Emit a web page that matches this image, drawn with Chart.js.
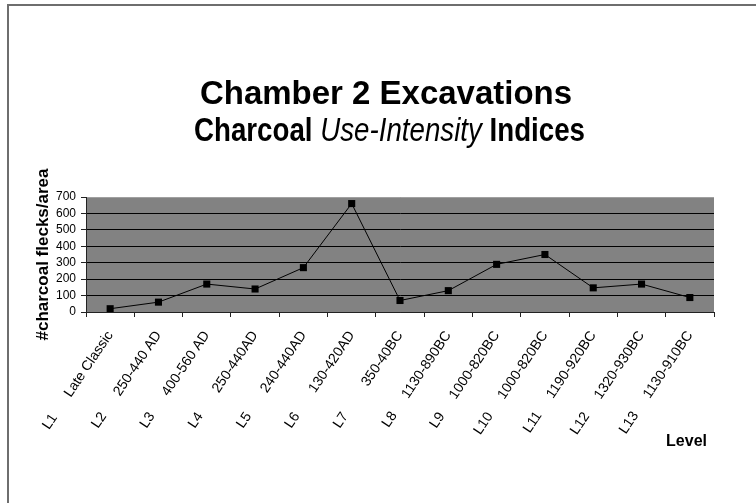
<!DOCTYPE html>
<html>
<head>
<meta charset="utf-8">
<script src="https://cdn.jsdelivr.net/npm/chart.js@4.4.1/dist/chart.umd.min.js"></script>
<style>
html,body{margin:0;padding:0;background:#fff;}
#wrap{width:756px;height:503px;position:relative;}
</style>
</head>
<body>
<div id="wrap"><canvas id="c" width="756" height="503"></canvas></div>
<script>
// ---- data ----
const levels = ['L1','L2','L3','L4','L5','L6','L7','L8','L9','L10','L11','L12','L13'];
const periods = ['Late Classic','250-440 AD','400-560 AD','250-440AD','240-440AD','130-420AD','350-40BC','1130-890BC','1000-820BC','1000-820BC','1190-920BC','1320-930BC','1130-910BC'];
const flecks = [20, 60, 170, 140, 270, 660, 70, 130, 290, 350, 147, 170, 88];
const yTickValues = [0, 100, 200, 300, 400, 500, 600, 700];
const titleLine1 = 'Chamber 2 Excavations';
const titleLine2 = [['Charcoal ', 'bold'], ['Use-Intensity', 'italic'], [' Indices', 'bold']];
const yTitle = '#charcoal flecks/area';
const xTitle = 'Level';

// ---- label building (pad between level and period) ----
const FAM = '"Liberation Sans", Arial, Helvetica, sans-serif';
const TICK_FONT_SIZE = 14;
const mctx = document.createElement('canvas').getContext('2d');
mctx.font = TICK_FONT_SIZE + 'px ' + FAM;
const GAP_TARGET = 97;
const xLabels = levels.map((l, i) => {
  const p = periods[i];
  let s = ' ';
  while (mctx.measureText(s + p).width < GAP_TARGET) s += ' ';
  return l + s + p;
});

function drawFitted(ctx, parts, left, width, y, size) {
  const fonts = {bold: 'bold ' + size + 'px ' + FAM, italic: 'italic ' + size + 'px ' + FAM};
  let total = 0;
  parts.forEach(([t, f]) => { ctx.font = fonts[f]; total += ctx.measureText(t).width; });
  const sx = width / total;
  ctx.save();
  ctx.translate(left, y);
  ctx.scale(sx, 1);
  let x = 0;
  ctx.textAlign = 'left';
  ctx.textBaseline = 'middle';
  parts.forEach(([t, f]) => { ctx.font = fonts[f]; ctx.fillText(t, x, 0); x += ctx.measureText(t).width; });
  ctx.restore();
}

const bgPlugin = {
  id: 'bg',
  beforeDraw(chart) {
    const {ctx, chartArea: a} = chart;
    ctx.save();
    ctx.fillStyle = '#fff';
    ctx.fillRect(0, 0, chart.width, chart.height);
    ctx.fillStyle = '#828282';
    ctx.fillRect(a.left, a.top, a.right - a.left, a.bottom - a.top);
    ctx.restore();
  },
  afterDraw(chart) {
    const {ctx} = chart;
    ctx.save();
    // frame
    ctx.strokeStyle = '#6e6e6e';
    ctx.lineWidth = 2;
    ctx.beginPath();
    ctx.moveTo(8, chart.height + 2);
    ctx.lineTo(8, 5);
    ctx.lineTo(chart.width + 2, 5);
    ctx.stroke();
    // titles
    ctx.fillStyle = '#000';
    drawFitted(ctx, [[titleLine1, 'bold']], 200, 372, 95, 34);
    drawFitted(ctx, titleLine2, 194, 391, 132, 34);
    // x axis title
    ctx.font = 'bold 16px ' + FAM;
    ctx.textAlign = 'right';
    ctx.textBaseline = 'middle';
    ctx.fillText(xTitle, 707, 442);
    ctx.restore();
  }
};

new Chart(document.getElementById('c'), {
  type: 'line',
  data: {
    labels: xLabels,
    datasets: [{
      data: flecks,
      borderColor: '#000',
      borderWidth: 1,
      pointStyle: 'rect',
      pointRadius: 5,
      pointBackgroundColor: '#000',
      pointBorderColor: '#000',
      pointBorderWidth: 0,
      tension: 0
    }]
  },
  options: {
    responsive: false,
    animation: false,
    events: [],
    layout: {padding: {left: 10, right: 42, top: 197, bottom: 0}},
    plugins: {legend: {display: false}, tooltip: {enabled: false}, title: {display: false}},
    scales: {
      x: {
        offset: true,
        afterFit(s) { s.height = 191; },
        grid: {offset: true, drawOnChartArea: false, drawTicks: true, tickLength: 5, tickColor: '#222'},
        border: {display: true, color: '#222', width: 1},
        ticks: {autoSkip: false, maxRotation: 56, minRotation: 56, padding: 11, color: '#000',
                font: {family: FAM, size: TICK_FONT_SIZE}}
      },
      y: {
        min: 0, max: 700,
        afterFit(s) { s.width = 76; },
        afterBuildTicks(s) { s.ticks = yTickValues.map(v => ({value: v})); },
        grid: {
          color: c => c.tick && c.tick.value === 700 ? '#a0a0a0' : '#000',
          lineWidth: 1, tickLength: 5, tickColor: '#222'
        },
        border: {display: true, color: '#222', width: 1},
        ticks: {autoSkip: false, stepSize: 100, padding: 5, color: '#000', font: {family: FAM, size: 12}},
        title: {display: true, text: yTitle, color: '#000',
                font: {family: FAM, size: 17, weight: 'bold'}, padding: {top: 23, bottom: 0}}
      }
    }
  },
  plugins: [bgPlugin]
});
</script>
</body>
</html>
